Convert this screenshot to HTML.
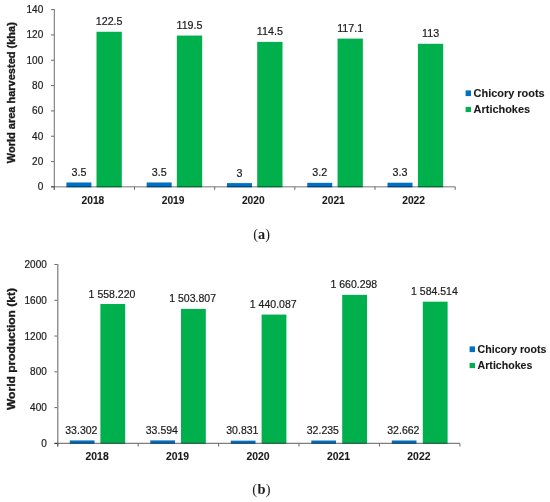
<!DOCTYPE html>
<html><head><meta charset="utf-8"><style>
html,body{margin:0;padding:0;background:#fff;}
svg{display:block;font-family:"Liberation Sans",sans-serif;}
text{filter:grayscale(1);}
</style></head><body>
<svg width="550" height="502" viewBox="0 0 550 502">
<rect width="550" height="502" fill="#fff"/>
<rect x="66.40" y="182.47" width="25.00" height="4.83" fill="#0070C4"/>
<rect x="96.50" y="31.76" width="25.30" height="155.54" fill="#00B04C"/>
<text transform="translate(78.90,175.97) scale(0.975,1.000)" fill="#1a1a1a" font-size="11" stroke="#1a1a1a" stroke-width="0.2" text-anchor="middle">3.5</text>
<text transform="translate(109.15,25.26) scale(0.975,1.000)" fill="#1a1a1a" font-size="11" stroke="#1a1a1a" stroke-width="0.2" text-anchor="middle">122.5</text>
<text transform="translate(92.89,203.50) scale(0.930,1.000)" fill="#1a1a1a" font-size="11" stroke="#1a1a1a" stroke-width="0.1" font-weight="bold" text-anchor="middle">2018</text>
<rect x="146.68" y="182.47" width="25.00" height="4.83" fill="#0070C4"/>
<rect x="176.85" y="35.56" width="25.30" height="151.74" fill="#00B04C"/>
<text transform="translate(159.18,175.97) scale(0.975,1.000)" fill="#1a1a1a" font-size="11" stroke="#1a1a1a" stroke-width="0.2" text-anchor="middle">3.5</text>
<text transform="translate(189.50,29.06) scale(0.975,1.000)" fill="#1a1a1a" font-size="11" stroke="#1a1a1a" stroke-width="0.2" text-anchor="middle">119.5</text>
<text transform="translate(173.07,203.50) scale(0.930,1.000)" fill="#1a1a1a" font-size="11" stroke="#1a1a1a" stroke-width="0.1" font-weight="bold" text-anchor="middle">2019</text>
<rect x="226.96" y="183.10" width="25.00" height="4.20" fill="#0070C4"/>
<rect x="257.20" y="41.89" width="25.30" height="145.41" fill="#00B04C"/>
<text transform="translate(239.46,176.60) scale(0.975,1.000)" fill="#1a1a1a" font-size="11" stroke="#1a1a1a" stroke-width="0.2" text-anchor="middle">3</text>
<text transform="translate(269.85,35.39) scale(0.975,1.000)" fill="#1a1a1a" font-size="11" stroke="#1a1a1a" stroke-width="0.2" text-anchor="middle">114.5</text>
<text transform="translate(253.25,203.50) scale(0.930,1.000)" fill="#1a1a1a" font-size="11" stroke="#1a1a1a" stroke-width="0.1" font-weight="bold" text-anchor="middle">2020</text>
<rect x="307.24" y="182.85" width="25.00" height="4.45" fill="#0070C4"/>
<rect x="337.55" y="38.60" width="25.30" height="148.70" fill="#00B04C"/>
<text transform="translate(319.74,176.35) scale(0.975,1.000)" fill="#1a1a1a" font-size="11" stroke="#1a1a1a" stroke-width="0.2" text-anchor="middle">3.2</text>
<text transform="translate(350.20,32.10) scale(0.975,1.000)" fill="#1a1a1a" font-size="11" stroke="#1a1a1a" stroke-width="0.2" text-anchor="middle">117.1</text>
<text transform="translate(333.43,203.50) scale(0.930,1.000)" fill="#1a1a1a" font-size="11" stroke="#1a1a1a" stroke-width="0.1" font-weight="bold" text-anchor="middle">2021</text>
<rect x="387.52" y="182.72" width="25.00" height="4.58" fill="#0070C4"/>
<rect x="417.90" y="43.79" width="25.30" height="143.51" fill="#00B04C"/>
<text transform="translate(400.02,176.22) scale(0.975,1.000)" fill="#1a1a1a" font-size="11" stroke="#1a1a1a" stroke-width="0.2" text-anchor="middle">3.3</text>
<text transform="translate(430.55,37.29) scale(0.975,1.000)" fill="#1a1a1a" font-size="11" stroke="#1a1a1a" stroke-width="0.2" text-anchor="middle">113</text>
<text transform="translate(413.61,203.50) scale(0.930,1.000)" fill="#1a1a1a" font-size="11" stroke="#1a1a1a" stroke-width="0.1" font-weight="bold" text-anchor="middle">2022</text>
<line x1="51.00" y1="186.90" x2="54.30" y2="186.90" stroke="#6a6a6a" stroke-width="1"/>
<text transform="translate(43.20,190.35)" fill="#1a1a1a" font-size="10" stroke="#1a1a1a" stroke-width="0.2" text-anchor="end">0</text>
<line x1="51.00" y1="161.57" x2="54.30" y2="161.57" stroke="#6a6a6a" stroke-width="1"/>
<text transform="translate(43.20,165.02)" fill="#1a1a1a" font-size="10" stroke="#1a1a1a" stroke-width="0.2" text-anchor="end">20</text>
<line x1="51.00" y1="136.24" x2="54.30" y2="136.24" stroke="#6a6a6a" stroke-width="1"/>
<text transform="translate(43.20,139.69)" fill="#1a1a1a" font-size="10" stroke="#1a1a1a" stroke-width="0.2" text-anchor="end">40</text>
<line x1="51.00" y1="110.91" x2="54.30" y2="110.91" stroke="#6a6a6a" stroke-width="1"/>
<text transform="translate(43.20,114.36)" fill="#1a1a1a" font-size="10" stroke="#1a1a1a" stroke-width="0.2" text-anchor="end">60</text>
<line x1="51.00" y1="85.59" x2="54.30" y2="85.59" stroke="#6a6a6a" stroke-width="1"/>
<text transform="translate(43.20,89.04)" fill="#1a1a1a" font-size="10" stroke="#1a1a1a" stroke-width="0.2" text-anchor="end">80</text>
<line x1="51.00" y1="60.26" x2="54.30" y2="60.26" stroke="#6a6a6a" stroke-width="1"/>
<text transform="translate(43.20,63.71)" fill="#1a1a1a" font-size="10" stroke="#1a1a1a" stroke-width="0.2" text-anchor="end">100</text>
<line x1="51.00" y1="34.93" x2="54.30" y2="34.93" stroke="#6a6a6a" stroke-width="1"/>
<text transform="translate(43.20,38.38)" fill="#1a1a1a" font-size="10" stroke="#1a1a1a" stroke-width="0.2" text-anchor="end">120</text>
<line x1="51.00" y1="9.60" x2="54.30" y2="9.60" stroke="#6a6a6a" stroke-width="1"/>
<text transform="translate(43.20,13.05)" fill="#1a1a1a" font-size="10" stroke="#1a1a1a" stroke-width="0.2" text-anchor="end">140</text>
<line x1="54.35" y1="9.10" x2="54.35" y2="189.90" stroke="#858585" stroke-width="1.2"/>
<line x1="51.00" y1="186.70" x2="455.20" y2="186.70" stroke="#000" stroke-width="1.5" stroke-opacity="0.36"/>
<line x1="54.30" y1="186.70" x2="54.30" y2="189.90" stroke="#6a6a6a" stroke-width="1"/>
<line x1="134.48" y1="186.70" x2="134.48" y2="189.90" stroke="#6a6a6a" stroke-width="1"/>
<line x1="214.66" y1="186.70" x2="214.66" y2="189.90" stroke="#6a6a6a" stroke-width="1"/>
<line x1="294.84" y1="186.70" x2="294.84" y2="189.90" stroke="#6a6a6a" stroke-width="1"/>
<line x1="375.02" y1="186.70" x2="375.02" y2="189.90" stroke="#6a6a6a" stroke-width="1"/>
<line x1="455.20" y1="186.70" x2="455.20" y2="189.90" stroke="#6a6a6a" stroke-width="1"/>
<text transform="translate(15.20,92.70) rotate(-90)" fill="#1a1a1a" font-size="11" stroke="#1a1a1a" stroke-width="0.35" font-weight="bold" text-anchor="middle">World area harvested (kha)</text>
<rect x="465.60" y="90.40" width="5.4" height="5.7" fill="#0070C4"/>
<rect x="465.60" y="106.90" width="5.4" height="5.2" fill="#00B04C"/>
<text transform="translate(473.60,97.00) scale(1.095,1.000)" fill="#1a1a1a" font-size="10" stroke="#1a1a1a" stroke-width="0.1" font-weight="bold">Chicory roots</text>
<text transform="translate(473.60,112.50) scale(1.095,1.000)" fill="#1a1a1a" font-size="10" stroke="#1a1a1a" stroke-width="0.1" font-weight="bold">Artichokes</text>
<text transform="translate(253.30,238.60) scale(0.920,1)" font-family="Liberation Serif, serif" font-size="15.5" fill="#1a1a1a" letter-spacing="0">(<tspan font-weight="bold">a</tspan>)</text>
<rect x="69.80" y="440.42" width="24.70" height="3.18" fill="#0070C4"/>
<rect x="100.40" y="304.02" width="24.80" height="139.58" fill="#00B04C"/>
<text transform="translate(81.35,433.92) scale(0.957,1.000)" fill="#1a1a1a" font-size="11" stroke="#1a1a1a" stroke-width="0.2" text-anchor="middle">33.302</text>
<text transform="translate(112.00,297.52) scale(0.957,1.000)" fill="#1a1a1a" font-size="11" stroke="#1a1a1a" stroke-width="0.2" text-anchor="middle">1 558.220</text>
<text transform="translate(97.12,459.80) scale(0.945,1.000)" fill="#1a1a1a" font-size="11" stroke="#1a1a1a" stroke-width="0.1" font-weight="bold" text-anchor="middle">2018</text>
<rect x="150.30" y="440.40" width="24.70" height="3.20" fill="#0070C4"/>
<rect x="181.00" y="308.88" width="24.80" height="134.72" fill="#00B04C"/>
<text transform="translate(161.85,433.90) scale(0.957,1.000)" fill="#1a1a1a" font-size="11" stroke="#1a1a1a" stroke-width="0.2" text-anchor="middle">33.594</text>
<text transform="translate(192.60,302.38) scale(0.957,1.000)" fill="#1a1a1a" font-size="11" stroke="#1a1a1a" stroke-width="0.2" text-anchor="middle">1 503.807</text>
<text transform="translate(177.56,459.80) scale(0.945,1.000)" fill="#1a1a1a" font-size="11" stroke="#1a1a1a" stroke-width="0.1" font-weight="bold" text-anchor="middle">2019</text>
<rect x="230.80" y="440.64" width="24.70" height="2.96" fill="#0070C4"/>
<rect x="261.60" y="314.58" width="24.80" height="129.02" fill="#00B04C"/>
<text transform="translate(242.35,434.14) scale(0.957,1.000)" fill="#1a1a1a" font-size="11" stroke="#1a1a1a" stroke-width="0.2" text-anchor="middle">30.831</text>
<text transform="translate(273.20,308.08) scale(0.957,1.000)" fill="#1a1a1a" font-size="11" stroke="#1a1a1a" stroke-width="0.2" text-anchor="middle">1 440.087</text>
<text transform="translate(258.00,459.80) scale(0.945,1.000)" fill="#1a1a1a" font-size="11" stroke="#1a1a1a" stroke-width="0.1" font-weight="bold" text-anchor="middle">2020</text>
<rect x="311.30" y="440.52" width="24.70" height="3.08" fill="#0070C4"/>
<rect x="342.20" y="294.89" width="24.80" height="148.71" fill="#00B04C"/>
<text transform="translate(322.85,434.02) scale(0.957,1.000)" fill="#1a1a1a" font-size="11" stroke="#1a1a1a" stroke-width="0.2" text-anchor="middle">32.235</text>
<text transform="translate(353.80,288.39) scale(0.957,1.000)" fill="#1a1a1a" font-size="11" stroke="#1a1a1a" stroke-width="0.2" text-anchor="middle">1 660.298</text>
<text transform="translate(338.44,459.80) scale(0.945,1.000)" fill="#1a1a1a" font-size="11" stroke="#1a1a1a" stroke-width="0.1" font-weight="bold" text-anchor="middle">2021</text>
<rect x="391.80" y="440.48" width="24.70" height="3.12" fill="#0070C4"/>
<rect x="422.80" y="301.67" width="24.80" height="141.93" fill="#00B04C"/>
<text transform="translate(403.35,433.98) scale(0.957,1.000)" fill="#1a1a1a" font-size="11" stroke="#1a1a1a" stroke-width="0.2" text-anchor="middle">32.662</text>
<text transform="translate(434.40,295.17) scale(0.957,1.000)" fill="#1a1a1a" font-size="11" stroke="#1a1a1a" stroke-width="0.2" text-anchor="middle">1 584.514</text>
<text transform="translate(418.88,459.80) scale(0.945,1.000)" fill="#1a1a1a" font-size="11" stroke="#1a1a1a" stroke-width="0.1" font-weight="bold" text-anchor="middle">2022</text>
<line x1="54.40" y1="443.40" x2="57.70" y2="443.40" stroke="#6a6a6a" stroke-width="1"/>
<text transform="translate(46.80,447.00)" fill="#1a1a1a" font-size="10" stroke="#1a1a1a" stroke-width="0.2" text-anchor="end">0</text>
<line x1="54.40" y1="407.62" x2="57.70" y2="407.62" stroke="#6a6a6a" stroke-width="1"/>
<text transform="translate(46.80,411.22)" fill="#1a1a1a" font-size="10" stroke="#1a1a1a" stroke-width="0.2" text-anchor="end">400</text>
<line x1="54.40" y1="371.84" x2="57.70" y2="371.84" stroke="#6a6a6a" stroke-width="1"/>
<text transform="translate(46.80,375.44)" fill="#1a1a1a" font-size="10" stroke="#1a1a1a" stroke-width="0.2" text-anchor="end">800</text>
<line x1="54.40" y1="336.06" x2="57.70" y2="336.06" stroke="#6a6a6a" stroke-width="1"/>
<text transform="translate(46.80,339.66)" fill="#1a1a1a" font-size="10" stroke="#1a1a1a" stroke-width="0.2" text-anchor="end">1200</text>
<line x1="54.40" y1="300.28" x2="57.70" y2="300.28" stroke="#6a6a6a" stroke-width="1"/>
<text transform="translate(46.80,303.88)" fill="#1a1a1a" font-size="10" stroke="#1a1a1a" stroke-width="0.2" text-anchor="end">1600</text>
<line x1="54.40" y1="264.50" x2="57.70" y2="264.50" stroke="#6a6a6a" stroke-width="1"/>
<text transform="translate(46.80,268.10)" fill="#1a1a1a" font-size="10" stroke="#1a1a1a" stroke-width="0.2" text-anchor="end">2000</text>
<line x1="57.75" y1="264.00" x2="57.75" y2="446.55" stroke="#8e8e8e" stroke-width="1.4"/>
<line x1="54.40" y1="443.35" x2="459.90" y2="443.35" stroke="#000" stroke-width="1.1" stroke-opacity="0.5"/>
<line x1="57.70" y1="443.35" x2="57.70" y2="446.55" stroke="#6a6a6a" stroke-width="1"/>
<line x1="138.14" y1="443.35" x2="138.14" y2="446.55" stroke="#6a6a6a" stroke-width="1"/>
<line x1="218.58" y1="443.35" x2="218.58" y2="446.55" stroke="#6a6a6a" stroke-width="1"/>
<line x1="299.02" y1="443.35" x2="299.02" y2="446.55" stroke="#6a6a6a" stroke-width="1"/>
<line x1="379.46" y1="443.35" x2="379.46" y2="446.55" stroke="#6a6a6a" stroke-width="1"/>
<line x1="459.90" y1="443.35" x2="459.90" y2="446.55" stroke="#6a6a6a" stroke-width="1"/>
<text transform="translate(15.40,349.00) rotate(-90) scale(1.095,1.000)" fill="#1a1a1a" font-size="11" stroke="#1a1a1a" stroke-width="0.35" font-weight="bold" text-anchor="middle">World production (kt)</text>
<rect x="469.60" y="346.40" width="5.4" height="5.7" fill="#0070C4"/>
<rect x="469.60" y="362.90" width="5.4" height="5.2" fill="#00B04C"/>
<text transform="translate(477.60,353.00) scale(1.060,1.000)" fill="#1a1a1a" font-size="10" stroke="#1a1a1a" stroke-width="0.1" font-weight="bold">Chicory roots</text>
<text transform="translate(477.60,368.60) scale(1.060,1.000)" fill="#1a1a1a" font-size="10" stroke="#1a1a1a" stroke-width="0.1" font-weight="bold">Artichokes</text>
<text transform="translate(252.30,493.90) scale(0.930,1)" font-family="Liberation Serif, serif" font-size="15.5" fill="#1a1a1a" letter-spacing="0.3">(<tspan font-weight="bold">b</tspan>)</text>
</svg>
</body></html>
